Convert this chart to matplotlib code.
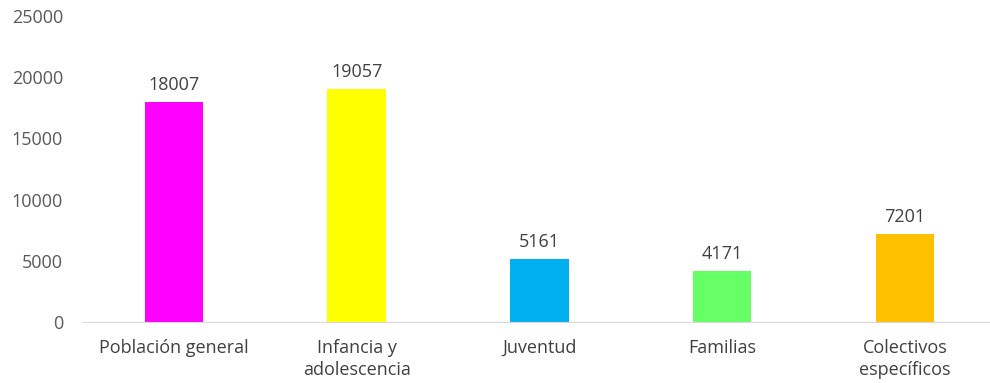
import matplotlib.pyplot as plt

categorias = ["Población general", "Infancia y\nadolescencia", "Juventud", "Familias", "Colectivos\nespecíficos"]
valores = [18007, 19057, 5161, 4171, 7201]
colores = ["#FF00FF", "#FFFF00", "#00B0F0", "#66FF66", "#FFC000"]
yticks = [0, 5000, 10000, 15000, 20000, 25000]

plt.rcParams['font.family'] = ['Open Sans', 'DejaVu Sans']

fig = plt.figure(figsize=(9.9, 3.83), dpi=100)
ax = fig.add_axes([0.0834, 0.159, 0.923, 0.799])

x = range(len(categorias))
bars = ax.bar(x, valores, width=0.32, color=colores)

for b, v in zip(bars, valores):
    ax.annotate(str(v), (b.get_x() + b.get_width() / 2, v),
                xytext=(0, 5.5), textcoords="offset points",
                ha="center", va="bottom", fontsize=13, color="#404040")

ax.set_xlim(-0.5, len(categorias) - 0.5)
ax.set_ylim(0, 25000)
ax.set_yticks(yticks)
ax.set_xticks(list(x))
ax.set_xticklabels(categorias, fontsize=13, color="#404040", linespacing=1.3)
ax.tick_params(axis="y", length=0, labelsize=13, labelcolor="#595959", pad=14)
ax.tick_params(axis="x", length=0, pad=12)

for s in ["top", "right", "left"]:
    ax.spines[s].set_visible(False)
ax.spines["bottom"].set_color("#D9D9D9")

fig.savefig("out.png")
